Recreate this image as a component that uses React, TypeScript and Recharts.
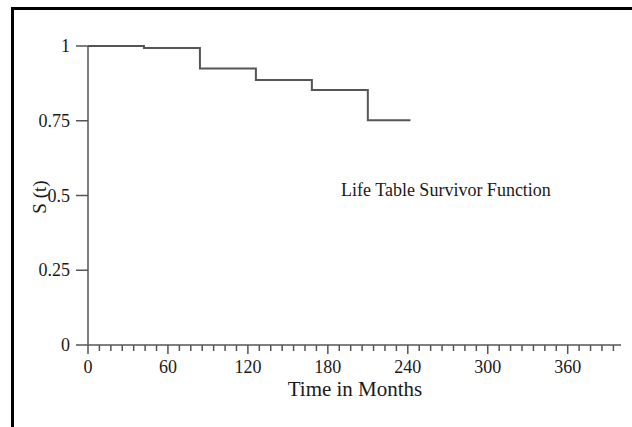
import { LineChart, Line, XAxis, YAxis } from 'recharts';

// ── data ───────────────────────────────────────────────────────────
const TIMES = [0, 42, 84, 126, 168, 210, 242];
const SURVIVAL = [1, 0.993, 0.925, 0.886, 0.853, 0.752, 0.752];

const Y_TICKS = [0, 0.25, 0.5, 0.75, 1];
const Y_TICK_LABELS = ['0', '0.25', '0.5', '0.75', '1'];
const X_MAJOR = [0, 60, 120, 180, 240, 300, 360];
const X_MAX = 400;
const MINOR_PER_MAJOR = 7;

const FONT = '"Liberation Serif", "Times New Roman", serif';
const INK = '#1a1a1a';
const LINE = '#555';

const data = TIMES.map((t, i) => ({ t, s: SURVIVAL[i] }));

// minor ticks every 1/7 of a major step, up to the end of the axis
const xTicks: number[] = [];
for (let k = 0; (k * 60) / MINOR_PER_MAJOR <= X_MAX - 5; k++) xTicks.push((k * 60) / MINOR_PER_MAJOR);

function XTick(props: any) {
  const { x, y, payload } = props;
  const v = payload.value as number;
  const major = X_MAJOR.some(m => Math.abs(m - v) < 1e-6);
  return (
    <g>
      <line x1={x} x2={x} y1={y} y2={y + (major ? 9 : 6)} stroke={LINE} strokeWidth={1.5} />
      {major && (
        <text x={x} y={y + 28} textAnchor="middle" fontFamily={FONT} fontSize={18} fill={INK}>
          {Math.round(v)}
        </text>
      )}
    </g>
  );
}

function YTick(props: any) {
  const { x, y, payload } = props;
  const v = payload.value as number;
  return (
    <text x={x} y={y} dy={6} textAnchor="end" fontFamily={FONT} fontSize={18} fill={INK}>
      {Y_TICK_LABELS[Y_TICKS.indexOf(v)] ?? String(v)}
    </text>
  );
}

export default function App() {
  return (
    <div style={{ position: 'absolute', left: 0, top: 0, width: 632, height: 427, background: '#fff', overflow: 'hidden' }}>
      {/* frame */}
      <div style={{ position: 'absolute', left: 11, top: 7, width: 3, height: 420, background: '#000' }} />
      <div style={{ position: 'absolute', left: 11, top: 7, width: 621, height: 3, background: '#000' }} />

      <div style={{ position: 'absolute', left: 0, top: 0 }}>
        <LineChart width={632} height={427} data={data} margin={{ top: 46, right: 11, left: 28, bottom: 22 }}>
          <XAxis
            dataKey="t"
            type="number"
            domain={[0, X_MAX]}
            ticks={xTicks}
            interval={0}
            tickSize={0}
            tickMargin={0}
            tickLine={false}
            tick={<XTick />}
            height={60}
            axisLine={{ stroke: LINE, strokeWidth: 1.5 }}
          />
          <YAxis
            type="number"
            domain={[0, 1]}
            ticks={Y_TICKS}
            interval={0}
            width={60}
            tickSize={12}
            tickMargin={6}
            tick={<YTick />}
            tickLine={{ stroke: LINE, strokeWidth: 1.5 }}
            axisLine={{ stroke: LINE, strokeWidth: 1.5 }}
          />
          <Line
            type="stepAfter"
            dataKey="s"
            stroke={LINE}
            strokeWidth={2}
            dot={false}
            isAnimationActive={false}
          />
        </LineChart>
      </div>

      {/* texts */}
      <div style={{ position: 'absolute', left: 341, top: 180, fontFamily: FONT, fontSize: 18, lineHeight: '20px', color: INK, whiteSpace: 'nowrap' }}>
        Life Table Survivor Function
      </div>
      <div style={{ position: 'absolute', left: 255, width: 200, top: 379, textAlign: 'center', fontFamily: FONT, fontSize: 21, lineHeight: '20px', color: INK, whiteSpace: 'nowrap' }}>
        Time in Months
      </div>
      <div style={{ position: 'absolute', left: 40, top: 197, transform: 'translate(-50%, -50%) rotate(-90deg)', fontFamily: FONT, fontSize: 19, lineHeight: '22px', color: INK, whiteSpace: 'nowrap' }}>
        S (t)
      </div>
    </div>
  );
}
